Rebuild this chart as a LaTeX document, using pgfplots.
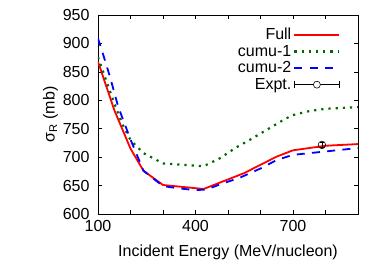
\documentclass[border=0pt]{standalone}
\usepackage{fontspec}
\setmainfont{Liberation Sans}
\usepackage{pgfplots}
\pgfplotsset{compat=1.18}
\definecolor{dkgreen}{RGB}{0,105,0}
\begin{document}
\begin{tikzpicture}
\useasboundingbox (0pt,0pt) rectangle (378pt,264pt);
\begin{axis}[
 at={(98pt,50pt)}, anchor=south west,
 scale only axis, width=260pt, height=199pt,
 xmin=100,xmax=900,ymin=600,ymax=950,
 xtick={100,200,...,900},
 xticklabels={100,,,400,,,700,,},
 ytick={600,650,...,950},
 tick align=inside, major tick length=4pt,
 tick style={black, line width=0.6pt},
 axis line style={line width=0.8pt},
 font=\fontsize{16}{19}\selectfont,
 /pgf/number format/assume math mode=true,
 xticklabel style={yshift=-3pt},
 yticklabel style={xshift=-5pt},
 xlabel={Incident Energy (MeV/nucleon)},
 xlabel style={yshift=-6pt},
 ylabel={σ\textsubscript{R} (mb)},
 ylabel style={yshift=-2pt},
 legend style={draw=none, fill=none, at={(0.945,0.955)}, anchor=north east, font=\fontsize{16}{19}\selectfont, row sep=0pt},
 legend cell align=right,
 legend plot pos=right,
]
\addplot[red, line width=1.8pt,
  legend image code/.code={\draw[red,line width=1.8pt] (0pt,0pt) -- (45pt,0pt);}]
  coordinates {(100,868) (150,783) (200,715) (240,676) (300,651) (425,644) (550,672) (650,701) (700,712) (800,720) (900,723)};
\addlegendentry{Full}
\addplot[dkgreen, line width=2.2pt, dash pattern=on 2.2pt off 5pt,
  legend image code/.code={\draw[dkgreen,line width=2.2pt,dash pattern=on 2.2pt off 5pt] (0pt,0pt) -- (45pt,0pt);}]
  coordinates {(100,876) (125,835) (150,795) (175,758) (200,730) (240,707) (300,689) (350,687) (425,684) (475,698) (525,717) (575,733) (625,750) (675,767) (700,774) (750,781) (800,785) (900,788)};
\addlegendentry{cumu-1}
\addplot[blue, line width=1.8pt, dash pattern=on 8pt off 7.3pt,
  legend image code/.code={\draw[blue,line width=1.8pt,dash pattern=on 8pt off 7.3pt] (0pt,0pt) -- (45pt,0pt);}]
  coordinates {(100,909) (115,882) (137,841) (162,789) (200,731) (240,676) (300,649) (350,645) (400,642) (434,643) (475,652) (537,664) (600,680) (650,695) (700,704) (800,710) (900,716)};
\addlegendentry{cumu-2}
\addplot[black, line width=0.6pt, only marks, mark=o, mark size=3.8pt, mark options={line width=0.6pt},
  legend image code/.code={\draw[black,line width=0.6pt] (0pt,0pt)--(45pt,0pt); \draw[black,line width=0.6pt] (0pt,-3.5pt)--(0pt,3.5pt); \draw[black,line width=0.6pt] (45pt,-3.5pt)--(45pt,3.5pt); \draw[black,line width=0.6pt,fill=white] (22.5pt,0pt) circle (3.5pt);},
  error bars/.cd, y dir=both, y explicit, error bar style={line width=0.6pt}, error mark options={rotate=90, mark size=2pt, line width=0.6pt}]
  coordinates {(789,721.5) +- (0,4)};
\addlegendentry{Expt.}
\end{axis}
\end{tikzpicture}
\end{document}
